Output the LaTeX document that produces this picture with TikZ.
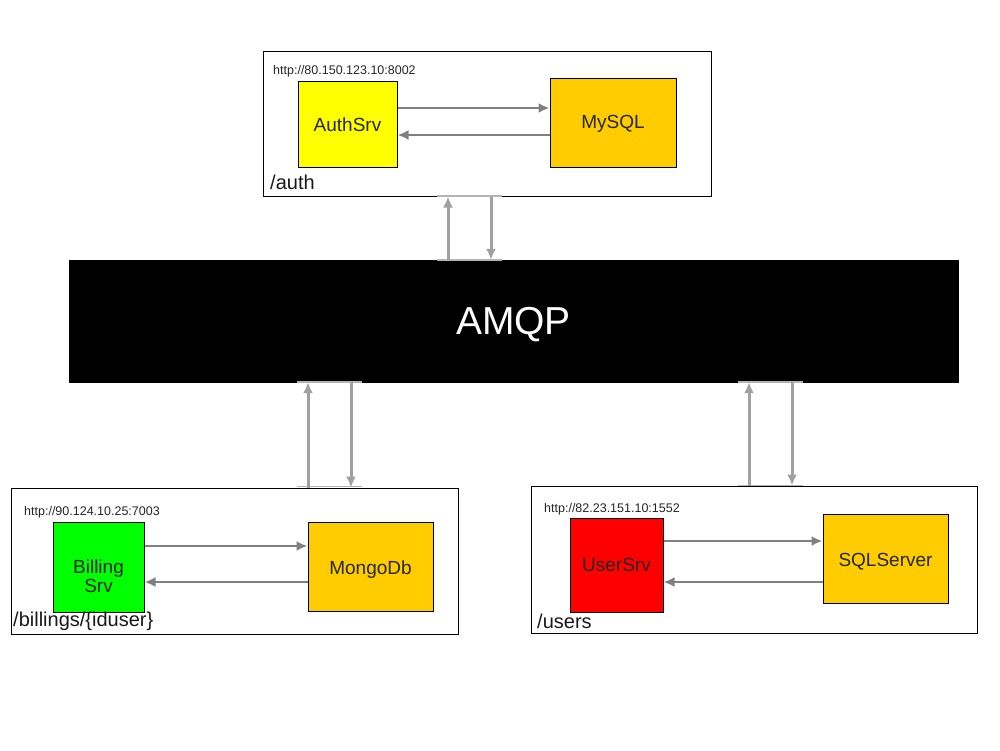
\documentclass[tikz,border=0pt]{standalone}
\usepackage{fontspec}
\setmainfont{Liberation Sans}
\usetikzlibrary{arrows.meta}
\definecolor{gold}{HTML}{FFCC00}
\definecolor{srvyellow}{HTML}{FFFF00}
\definecolor{srvgreen}{HTML}{00FF00}
\definecolor{srvred}{HTML}{FF0000}
\definecolor{linkgray}{HTML}{808080}
\definecolor{buslink}{HTML}{A0A0A0}
\definecolor{portgray}{HTML}{B4B4B4}
\newcommand{\lowertext}[2]{\raisebox{-#1}[\height][\depth]{#2}}
\begin{document}
\begin{tikzpicture}[x=1pt,y=-1pt,
  cont/.style={draw=black,line width=1pt,inner sep=0pt,fill=white},
  box/.style={draw=black,line width=1pt,inner sep=0pt,align=center,
    font=\fontsize{19}{20}\selectfont,text=black!85},
  url/.style={anchor=west,inner sep=0pt,font=\fontsize{12.5}{13}\selectfont,text=black!85},
  path/.style={anchor=west,inner sep=0pt,font=\fontsize{20}{22}\selectfont,text=black!90},
  link/.style={draw=linkgray,line width=2.5pt,-{Latex[length=11pt,width=10pt]}},
  vlink/.style={draw=buslink,line width=3pt,-{Latex[length=11pt,width=10pt]}},
  port/.style={draw=portgray,line width=1.5pt}]
\useasboundingbox (0,0) rectangle (1000,750);

% containers
\node[cont,minimum width=448pt,minimum height=145pt] (auth) at (487,123.5) {};
\node[cont,minimum width=447pt,minimum height=146pt] (billing) at (234.5,561) {};
\node[cont,minimum width=446pt,minimum height=147pt] (users) at (754,559.5) {};

% AMQP bus
\node[fill=black,draw=black,minimum width=889pt,minimum height=122pt,inner sep=0pt,
  text=white,font=\fontsize{39}{40}\selectfont] (amqp) at (513.5,321) {\lowertext{4pt}{AMQP}};

% services
\node[box,fill=srvyellow,minimum width=99pt,minimum height=86pt] (authsrv) at (347.5,124) {\lowertext{1pt}{AuthSrv}};
\node[box,fill=gold,minimum width=126pt,minimum height=89pt] (mysql) at (613,122.5) {\lowertext{1pt}{MySQL}};
\node[box,fill=srvgreen,minimum width=91pt,minimum height=90pt] (billsrv) at (98.5,567)
  {\lowertext{12pt}{\begin{tabular}{@{}c@{}}Billing\\[-1pt]Srv\end{tabular}}};
\node[box,fill=gold,minimum width=125pt,minimum height=89pt] (mongo) at (370.5,566.5) {\lowertext{3pt}{MongoDb}};
\node[box,fill=srvred,minimum width=93pt,minimum height=94pt] (usersrv) at (616.5,565) {UserSrv};
\node[box,fill=gold,minimum width=125pt,minimum height=89pt] (sqlsrv) at (885.5,558.5) {\lowertext{3pt}{SQLServer}};

% labels
\node[url] (authurl) at (273,71.5) {http://80.150.123.10:8002};
\node[url] (billurl) at (24,512) {http://90.124.10.25:7003};
\node[url] (userurl) at (544,509) {http://82.23.151.10:1552};
\node[path] (authpath) at (270,182) {/auth};
\node[path] (billpath) at (13,621) {/billings/\{iduser\}};
\node[path] (userpath) at (537,621) {/users};

% service <-> db links
\draw[link] (authsrv.east |- 0,108) -- (mysql.west |- 0,108);
\draw[link] (mysql.west |- 0,135) -- (authsrv.east |- 0,135);
\draw[link] (billsrv.east |- 0,546) -- (mongo.west |- 0,546);
\draw[link] (mongo.west |- 0,582) -- (billsrv.east |- 0,582);
\draw[link] (usersrv.east |- 0,541) -- (sqlsrv.west |- 0,541);
\draw[link] (sqlsrv.west |- 0,582) -- (usersrv.east |- 0,582);

% ports
\draw[port] (437,196) -- (502,196);
\draw[port] (437,260) -- (502,260);
\draw[port] (297,382) -- (362,382);
\draw[port] (297,486.5) -- (362,486.5);
\draw[port] (738,382) -- (803,382);
\draw[port] (738,485.5) -- (803,485.5);

% bus links
\draw[vlink] (amqp.north -| 448,0) -- (auth.south -| 448,0);
\draw[vlink] (auth.south -| 491,0) -- (amqp.north -| 491,0);
\draw[vlink] (billing.north -| 308,0) -- (amqp.south -| 308,0);
\draw[vlink] (amqp.south -| 351,0) -- (billing.north -| 351,0);
\draw[vlink] (users.north -| 749,0) -- (amqp.south -| 749,0);
\draw[vlink] (amqp.south -| 792,0) -- (users.north -| 792,0);
\end{tikzpicture}
\end{document}
